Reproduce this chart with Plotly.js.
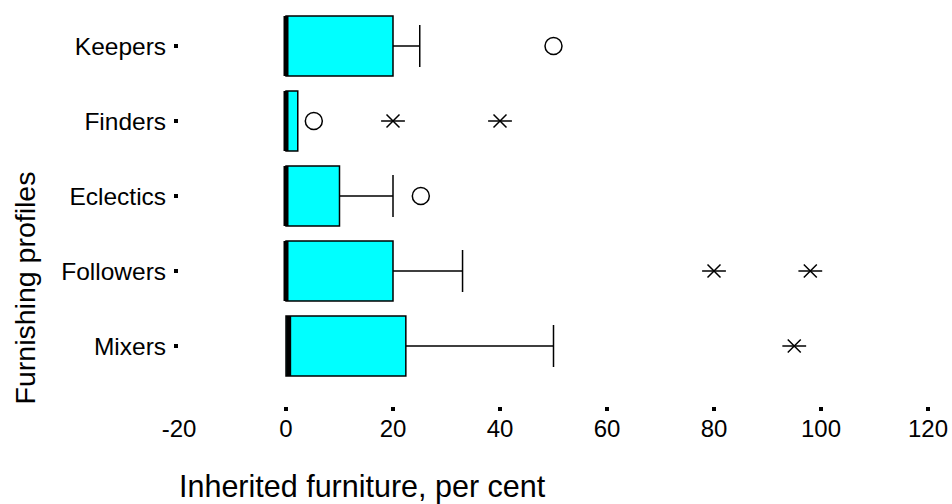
<!DOCTYPE html>
<html>
<head>
<meta charset="utf-8">
<script src="https://cdn.plot.ly/plotly-3.0.1.min.js"></script>
<style>html,body{margin:0;padding:0;background:#fff;}#chart{width:952px;height:504px;}</style>
</head>
<body>
<div id="chart"></div>
<script>
// Categories from bottom (0) to top (4)
const categories = ['Mixers', 'Followers', 'Eclectics', 'Finders', 'Keepers'];
const positions = [0, 1, 2, 3, 4];
const q1 = [0, 0, 0, 0, 0];
const median = [0.5, 0, 0, 0, 0];
const q3 = [22.4, 20, 10, 2.2, 20];
const lowerFence = [0, 0, 0, 0, 0];
const upperFence = [50, 33, 20, 2.2, 25];

// Outliers: circles and stars
const circleCats = ['Keepers', 'Finders', 'Eclectics'];
const circleVals = [50, 5.2, 25.2];
const starCats = ['Finders', 'Finders', 'Followers', 'Followers', 'Mixers'];
const starVals = [20, 40, 80, 98, 95];

const xTickVals = [-20, 0, 20, 40, 60, 80, 100, 120];

const posOf = c => positions[categories.indexOf(c)];
const boxWidth = 0.8;

// median segments
const mx = [], my = [];
median.forEach((m, i) => {
  mx.push(m, m, null);
  my.push(positions[i] - boxWidth / 2, positions[i] + boxWidth / 2, null);
});

const fontFam = '"Liberation Sans", Arial, sans-serif';

const traces = [
  {
    type: 'box', orientation: 'h',
    y: positions, q1: q1, median: median, q3: q3,
    lowerfence: lowerFence, upperfence: upperFence,
    width: boxWidth, whiskerwidth: 0.7,
    boxpoints: false,
    fillcolor: '#00FFFF',
    line: {color: '#000000', width: 1.5},
    hoverinfo: 'skip', showlegend: false
  },
  {
    type: 'scatter', mode: 'lines', x: mx, y: my,
    line: {color: '#000000', width: 5},
    hoverinfo: 'skip', showlegend: false
  },
  {
    type: 'scatter', mode: 'markers', xaxis: 'x2',
    x: circleVals, y: circleCats.map(posOf),
    marker: {symbol: 'circle-open', size: 17, color: '#000000', line: {width: 1.5, color: '#000000'}},
    showlegend: false
  },
  {
    type: 'scatter', mode: 'markers',
    x: starVals, y: starCats.map(posOf),
    marker: {symbol: 'line-ew-open', size: 17, color: '#000000', line: {width: 1.5, color: '#000000'}},
    showlegend: false
  },
  {
    type: 'scatter', mode: 'markers',
    x: starVals, y: starCats.map(posOf),
    marker: {symbol: 'x-thin-open', size: 13, color: '#000000', line: {width: 1.5, color: '#000000'}},
    showlegend: false
  }
];

const layout = {
  width: 952, height: 504,
  margin: {l: 179, r: 24, t: 10, b: 98},
  paper_bgcolor: '#ffffff', plot_bgcolor: '#ffffff',
  font: {family: fontFam, color: '#000000', size: 24},
  showlegend: false,
  xaxis: {
    range: [-20, 120], tickvals: xTickVals, ticktext: xTickVals.map(String),
    ticks: '', showgrid: false, zeroline: false, showline: false,
    ticklabelstandoff: 6,
    tickfont: {family: fontFam, size: 24, color: '#000000'}, fixedrange: true
  },
  xaxis2: {
    overlaying: 'x', anchor: 'y', side: 'bottom',
    range: [-20, 120], tickvals: xTickVals.slice(1), showticklabels: false,
    ticks: 'outside', ticklen: 4, tickwidth: 4, tickcolor: '#000000',
    showgrid: false, zeroline: false, showline: false, fixedrange: true
  },
  yaxis: {
    range: [-0.8, 4.48], tickvals: positions, ticktext: categories,
    ticks: 'outside', ticklen: 4, tickwidth: 4, tickcolor: '#000000',
    showgrid: false, zeroline: false, showline: false,
    ticklabelstandoff: 3,
    tickfont: {family: fontFam, size: 24.5, color: '#000000'}, fixedrange: true
  },
  annotations: [
    {
      text: 'Inherited furniture, per cent', showarrow: false,
      xref: 'paper', yref: 'paper', x: -0.003, y: -0.204,
      xanchor: 'left', yanchor: 'middle',
      font: {family: fontFam, size: 30.5, color: '#000000'}
    },
    {
      text: 'Furnishing profiles', showarrow: false, textangle: -90,
      xref: 'paper', yref: 'paper', x: -0.205, y: 0.298,
      xanchor: 'center', yanchor: 'middle',
      font: {family: fontFam, size: 28.5, color: '#000000'}
    }
  ]
};

Plotly.newPlot('chart', traces, layout, {displayModeBar: false, staticPlot: true});
</script>
</body>
</html>
